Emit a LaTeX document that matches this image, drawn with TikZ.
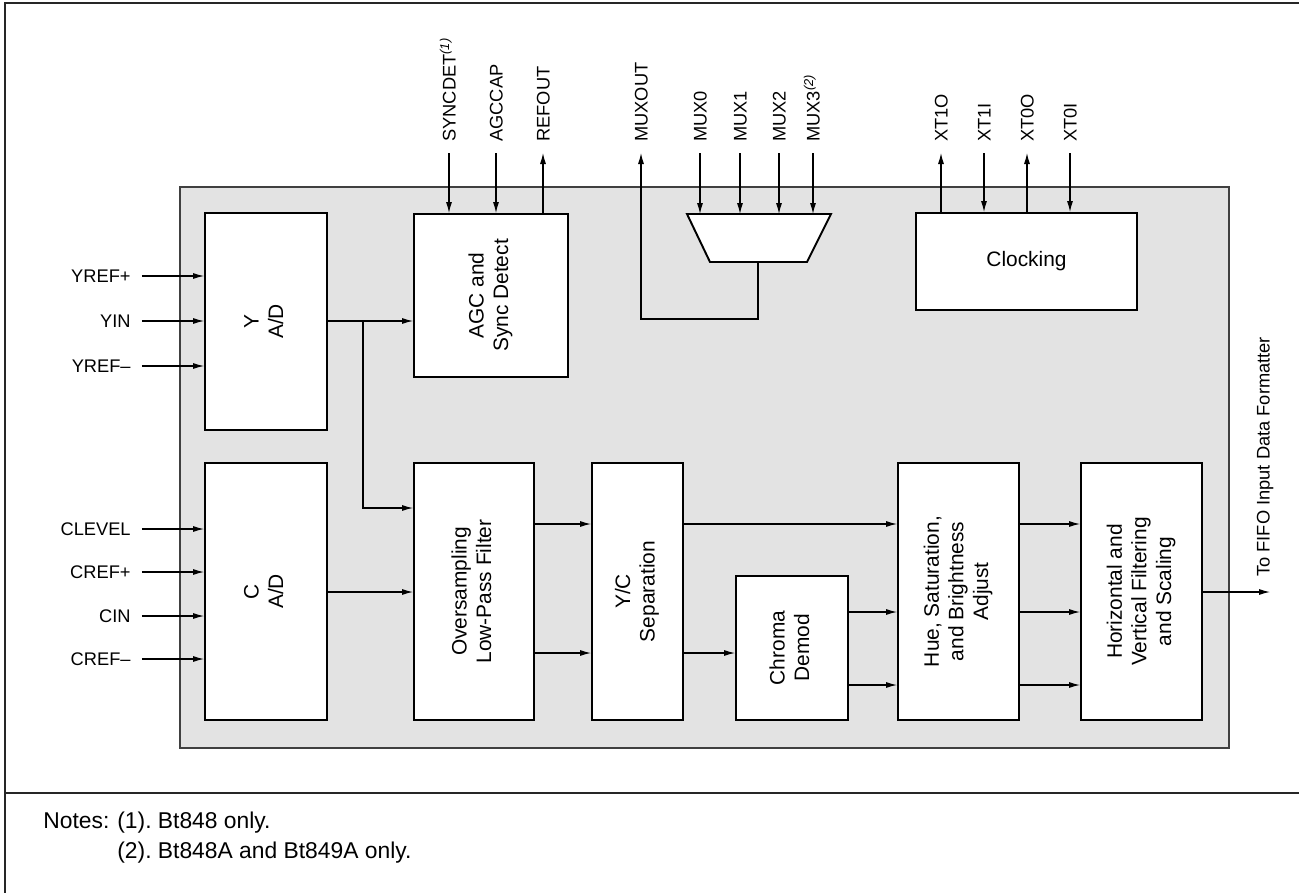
\documentclass[tikz,border=0pt]{standalone}
\usepackage{fontspec}
\setmainfont{Liberation Sans}
\usepackage{graphicx}
\usetikzlibrary{arrows.meta}

\newcommand{\lblfont}{\fontsize{10.4}{12}\selectfont}
\newcommand{\boxfont}{\fontsize{11.9}{14}\selectfont}
\newcommand{\notefont}{\fontsize{13}{15}\selectfont}
\newcommand{\vtext}[1]{\rotatebox{90}{\boxfont\begin{tabular}{@{}c@{}}#1\end{tabular}}}

\begin{document}
\begin{tikzpicture}[x=0.02cm,y=-0.02cm,
  blk/.style={draw, line width=1.1pt, fill=white, inner sep=0pt},
  lbl/.style={font=\lblfont, inner sep=0pt, text height=7.4pt, text depth=0pt},
  toplbl/.style={lbl, rotate=90, anchor=west},
  inlbl/.style={lbl, anchor=east},
  sig/.style={line width=0.6pt, -{Latex[length=2.2mm,width=1.2mm]}},
  wire/.style={line width=0.6pt}]
  \useasboundingbox (0,0) rectangle (1299,893);

  % frame and chip area
  \draw[line width=1.2pt, black!85] (1299,3) -- (5,3) -- (5,893);
  \draw[line width=0.8pt, black!85] (5,793) -- (1299,793);
  \draw[fill=black!11, draw=black!75, line width=0.6pt] (180,187) rectangle (1229,748);

  % blocks
  \node[blk, minimum width=2.44cm, minimum height=4.34cm] (yad) at (266,321.5) {\vtext{Y\\A/D}};
  \node[blk, minimum width=2.44cm, minimum height=5.14cm] (cad) at (266,591.5) {\vtext{C\\A/D}};
  \node[blk, minimum width=3.08cm, minimum height=3.26cm] (agc) at (491,295.5) {\vtext{AGC and\\Sync Detect}};
  \node[blk, minimum width=2.4cm, minimum height=5.14cm] (lpf) at (474,591.5) {\vtext{Oversampling\\Low-Pass Filter}};
  \node[blk, minimum width=1.82cm, minimum height=5.14cm] (ycs) at (637.5,591.5) {\vtext{Y/C\\Separation}};
  \node[blk, minimum width=2.24cm, minimum height=2.88cm] (cdm) at (792,648) {\vtext{Chroma\\Demod}};
  \node[blk, minimum width=2.42cm, minimum height=5.14cm] (hsb) at (958.5,591.5) {\vtext{Hue, Saturation,\\and Brightness\\Adjust}};
  \node[blk, minimum width=2.42cm, minimum height=5.14cm] (hvf) at (1141.5,591.5) {\vtext{Horizontal and\\Vertical Filtering\\and Scaling}};
  \node[blk, minimum width=4.42cm, minimum height=1.94cm, font=\boxfont] (clk) at (1026.5,261.5) {Clocking};

  % input mux
  \coordinate (muxtop) at (759,214);
  \coordinate (muxout) at (758,262);
  \draw[line width=1.1pt, fill=white] (687,214) -- (831,214) -- (807,262) -- (710,262) -- cycle;

  % pin labels, top
  \node[toplbl] (lsync) at (449,142) {SYNCDET\textsuperscript{\itshape(1)}};
  \node[toplbl] (lagc) at (496,142) {AGCCAP};
  \node[toplbl] (lref) at (543,142) {REFOUT};
  \node[toplbl] (lmuxo) at (641,142) {MUXOUT};
  \node[toplbl] (lmux0) at (700,142) {MUX0};
  \node[toplbl] (lmux1) at (740,142) {MUX1};
  \node[toplbl] (lmux2) at (779,142) {MUX2};
  \node[toplbl] (lmux3) at (813,142) {MUX3\textsuperscript{\itshape(2)}};
  \node[toplbl] (lxt1o) at (941,142) {XT1O};
  \node[toplbl] (lxt1i) at (984,142) {XT1I};
  \node[toplbl] (lxt0o) at (1027,142) {XT0O};
  \node[toplbl] (lxt0i) at (1070,142) {XT0I};

  % pin labels, left
  \node[inlbl] (lyrefp) at (131,276) {YREF+};
  \node[inlbl] (lyin) at (131,321) {YIN};
  \node[inlbl] (lyrefm) at (131,366) {YREF--};
  \node[inlbl] (lclev) at (131,529) {CLEVEL};
  \node[inlbl] (lcrefp) at (131,572) {CREF+};
  \node[inlbl] (lcin) at (131,616) {CIN};
  \node[inlbl] (lcrefm) at (131,659) {CREF--};

  % output label
  \node[toplbl] (lfifo) at (1263,577) {To FIFO Input Data Formatter};
  \coordinate (fifo) at (1270,592);

  % signal levels
  \coordinate (br) at (363,321);
  \coordinate (ylpf) at (0,508);
  \coordinate (ly) at (0,524);
  \coordinate (lo) at (0,592);
  \coordinate (lu) at (0,612);
  \coordinate (lc) at (0,653);
  \coordinate (lv) at (0,685);
  \coordinate (mret) at (641,319);

  % inputs
  \foreach \l in {lyrefp,lyin,lyrefm}
    \draw[sig] ([xshift=0.22cm]\l.east) -- (\l.east -| yad.west);
  \foreach \l in {lclev,lcrefp,lcin,lcrefm}
    \draw[sig] ([xshift=0.22cm]\l.east) -- (\l.east -| cad.west);

  % top pins
  \draw[sig] ([yshift=-0.22cm]lsync.west) -- (lsync.west |- agc.north);
  \draw[sig] ([yshift=-0.22cm]lagc.west) -- (lagc.west |- agc.north);
  \draw[sig] (lref.west |- agc.north) -- ([yshift=-0.22cm]lref.west);
  \foreach \m in {lmux0,lmux1,lmux2,lmux3}
    \draw[sig] ([yshift=-0.22cm]\m.west) -- (\m.west |- muxtop);
  \draw[sig] (muxout) |- (mret) -- ([yshift=-0.22cm]lmuxo.west);
  \foreach \m in {lxt1i,lxt0i}
    \draw[sig] ([yshift=-0.22cm]\m.west) -- (\m.west |- clk.north);
  \foreach \m in {lxt1o,lxt0o}
    \draw[sig] (\m.west |- clk.north) -- ([yshift=-0.22cm]\m.west);

  % data path
  \draw[sig] (yad.east |- lyin) -- (agc.west |- lyin);
  \draw[sig] (br) |- (lpf.west |- ylpf);
  \draw[sig] (cad.east |- lo) -- (lpf.west |- lo);
  \draw[sig] (lpf.east |- ly) -- (ycs.west |- ly);
  \draw[sig] (lpf.east |- lc) -- (ycs.west |- lc);
  \draw[sig] (ycs.east |- ly) -- (hsb.west |- ly);
  \draw[sig] (ycs.east |- lc) -- (cdm.west |- lc);
  \draw[sig] (cdm.east |- lu) -- (hsb.west |- lu);
  \draw[sig] (cdm.east |- lv) -- (hsb.west |- lv);
  \foreach \c in {ly,lu,lv}
    \draw[sig] (hsb.east |- \c) -- (hvf.west |- \c);
  \draw[sig] (hvf.east |- lo) -- (fifo);

  % notes
  \node[anchor=base west, inner sep=0pt, font=\notefont] (notes) at (43,828) {Notes:};
  \node[anchor=base west, inner sep=0pt, font=\notefont] (note1) at (117,828) {(1).\ Bt848 only.};
  \node[anchor=base west, inner sep=0pt, font=\notefont] (note2) at (117,858) {(2).\ Bt848A and Bt849A only.};
\end{tikzpicture}
\end{document}
